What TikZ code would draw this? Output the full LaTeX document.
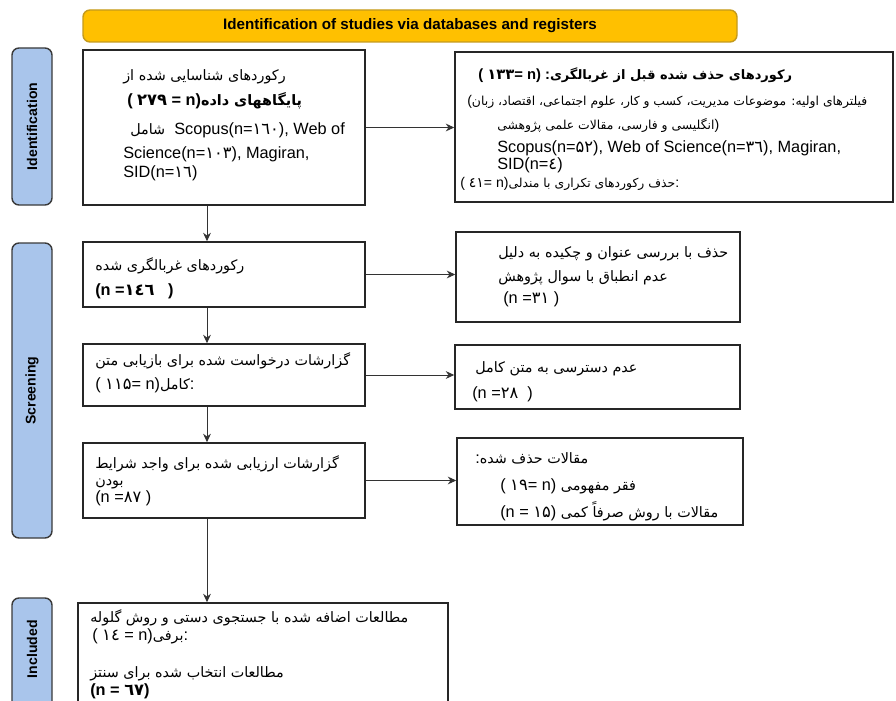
\documentclass[tikz,border=0pt]{standalone}
\usepackage{fontspec}
\setmainfont{Liberation Sans}
\newfontfamily\fafont[Script=Arabic, Scale=0.88]{DejaVu Sans}
\newfontfamily\fadigits[Script=Arabic]{DejaVu Sans}
\TeXXeTstate=1
\usepackage{tikz}
\usetikzlibrary{arrows.meta, positioning, calc, fit}

\definecolor{headfill}{HTML}{FFC000}
\definecolor{headline}{HTML}{C49A1C}
\definecolor{sidefill}{HTML}{A9C5EB}
\definecolor{sideline}{HTML}{3A3A3A}

\newcommand{\farun}[1]{{\fafont\beginR#1\endR}}
\newcommand{\fanum}[1]{{\fadigits#1}}

\tikzset{
  box/.style={draw=black!85, line width=1.1pt, inner sep=0pt},
  side/.style={draw=sideline, fill=sidefill, rounded corners=5pt, line width=1pt, inner sep=0pt},
  sidetxt/.style={rotate=90, font=\fontsize{10}{12}\selectfont\bfseries},
  head/.style={draw=headline, fill=headfill, rounded corners=5pt, line width=1pt, inner sep=0pt},
  txt/.style={anchor=base west, inner sep=0pt, font=\fontsize{11.6}{13}\selectfont},
  small/.style={anchor=base west, inner sep=0pt, font=\fontsize{10}{12}\selectfont},
  link/.style={draw=black!80, line width=0.7pt, -{Stealth[length=6pt,width=5.5pt]}}
}

\begin{document}
\begin{tikzpicture}[x=0.25mm, y=-0.25mm]
  \useasboundingbox (0,0) rectangle (896,701);
  \clip (0,0) rectangle (896,701);

  % header and phase labels
  \node[head, fit={(83,10) (737,42)}] (head) {};
  \node[font=\fontsize{10.8}{13}\selectfont\bfseries] (headT) at (head.center) {Identification of studies via databases and registers};
  \node[side, fit={(12,48) (52,205)}] (identS) {};
  \node[sidetxt] (identT) at (identS.center) {Identification};
  \node[side, fit={(12,243) (52,538)}] (screenS) {};
  \node[sidetxt] (screenT) at (screenS.center) {Screening};
  \node[side, fit={(12,598) (52,730)}] (inclS) {};
  \node[sidetxt] (inclT) at ($(inclS.north)+(0,52)$) {Included};

  % left column
  \node[box, fit={(83,50) (365,205)}] (ident) {};
  \node[txt] (identA1) at (123,81) {\farun{رکوردهای شناسایی شده از}};
  \node[txt] (identA2) at (127,106) {\textbf{( \fanum{۲۷۹} = n)}\farun{\bfseries پایگاههای داده}};
  \node[txt] (identA3) at (130,135) {\farun{شامل}\ \ Scopus(n=\fanum{۱٦۰}), Web of};
  \node[txt] (identA4) at (123,158) {Science(n=\fanum{۱۰۳}), Magiran,};
  \node[txt] (identA5) at (123,177) {SID(n=\fanum{۱٦})};

  \node[box, fit={(83,242) (365,307)}] (screen) {};
  \node[txt] (screenA1) at (95,270) {\farun{رکوردهای غربالگری شده}};
  \node[txt] (screenA2) at (95,295) {\textbf{(n =\fanum{۱٤٦}\ \ \ )}};

  \node[box, fit={(83,344) (365,406)}] (sought) {};
  \node[txt] (soughtA1) at (95,365) {\farun{گزارشات درخواست شده برای بازیابی متن}};
  \node[txt] (soughtA2) at (95,389) {( \fanum{۱۱۵}= n)\farun{کامل}:};

  \node[box, fit={(83,443) (365,518)}] (assess) {};
  \node[txt] (assessA1) at (95,468) {\farun{گزارشات ارزیابی شده برای واجد شرایط}};
  \node[txt] (assessA2) at (95,485) {\farun{بودن}};
  \node[txt] (assessA3) at (95,502) {(n =\fanum{۸۷} )};

  \node[box, fit={(78,603) (448,730)}] (incl) {};
  \node[txt] (inclA1) at (90,622) {\farun{مطالعات اضافه شده با جستجوی دستی و روش گلوله}};
  \node[txt] (inclA2) at (92,640) {( \fanum{۱٤} = n)\farun{برفی}:};
  \node[txt] (inclA3) at (90,677) {\farun{مطالعات انتخاب شده برای سنتز}};
  \node[txt] (inclA4) at (90,695) {\textbf{(n = \fanum{٦۷})}};

  % right column
  \node[box, fit={(455,52) (893,202)}] (removed) {};
  \node[txt, font=\fontsize{10.5}{13}\selectfont\bfseries] (removedA1) at (478,80) {( \fanum{۱۳۳}= n) :\farun{رکوردهای حذف شده قبل از غربالگری}};
  \node[small] (removedA2) at (467,106) {(\farun{فیلترهای اولیه\kern0pt: موضوعات مدیریت\kern0pt، کسب و کار\kern0pt، علوم اجتماعی\kern0pt، اقتصاد\kern0pt، زبان}};
  \node[small] (removedA3) at (497,130) {\farun{انگلیسی و فارسی\kern0pt، مقالات علمی پژوهشی})};
  \node[txt] (removedA4) at (497,152) {Scopus(n=\fanum{۵۲}), Web of Science(n=\fanum{۳٦}), Magiran,};
  \node[txt] (removedA5) at (497,170) {SID(n=\fanum{٤})};
  \node[small] (removedA6) at (460,188) {( \fanum{٤۱}= n)\farun{حذف رکوردهای تکراری با مندلی}:};

  \node[box, fit={(456,232) (740,322)}] (exclTA) {};
  \node[txt] (exclTA1) at (498,257) {\farun{حذف با بررسی عنوان و چکیده به دلیل}};
  \node[txt] (exclTA2) at (498,281) {\farun{عدم انطباق با سوال پژوهش}};
  \node[txt] (exclTA3) at (503,303) {(n =\fanum{۳۱} )};

  \node[box, fit={(455,345) (740,409)}] (exclFT) {};
  \node[txt] (exclFT1) at (475,372) {\farun{عدم دسترسی به متن کامل}};
  \node[txt] (exclFT2) at (472,398) {(n =\fanum{۲۸}\ \ )};

  \node[box, fit={(457,438) (743,525)}] (exclEL) {};
  \node[txt] (exclEL1) at (475,463) {:\farun{مقالات حذف شده}};
  \node[txt] (exclEL2) at (500,490) {( \fanum{۱۹}= n) \farun{فقر مفهومی}};
  \node[txt] (exclEL3) at (500,517) {(n = \fanum{۱۵}) \farun{مقالات با روش صرفاً کمی}};

  % connectors
  \coordinate (ax) at (207,0);
  \draw[link] (ident.south -| ax) -- (screen.north -| ax);
  \draw[link] (screen.south -| ax) -- (sought.north -| ax);
  \draw[link] (sought.south -| ax) -- (assess.north -| ax);
  \draw[link] (assess.south -| ax) -- (incl.north -| ax);
  \draw[link] (ident.east) -- (ident.east -| removed.west);
  \draw[link] (screen.east) -- (screen.east -| exclTA.west);
  \draw[link] (sought.east) -- (sought.east -| exclFT.west);
  \draw[link] (assess.east) -- (assess.east -| exclEL.west);
\end{tikzpicture}
\end{document}
